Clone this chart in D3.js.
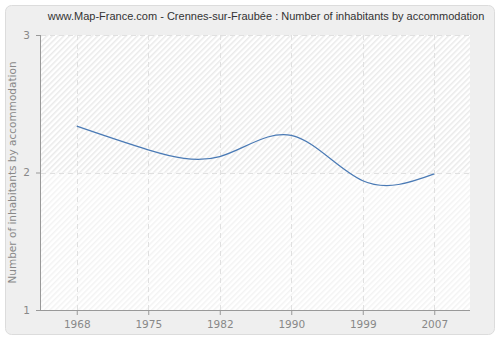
<!DOCTYPE html>
<html>
<head>
<meta charset="utf-8">
<script src="https://cdn.jsdelivr.net/npm/d3@7"></script>
<style>
  body { margin: 0; background: #fff; }
</style>
</head>
<body>
<script>
// data
var years = [1968, 1975, 1982, 1990, 1999, 2007];
var values = [2.337, 2.165, 2.116, 2.27, 1.94, 1.99];
var yTicks = [1, 2, 3];
var title = "www.Map-France.com - Crennes-sur-Fraubée : Number of inhabitants by accommodation";
var yLabel = "Number of inhabitants by accommodation";

var W = 500, H = 340;
var margin = {top: 35, right: 30, bottom: 30, left: 41},
    width = W - margin.left - margin.right,
    height = H - margin.top - margin.bottom;

var svg = d3.select("body").append("svg")
    .attr("width", W)
    .attr("height", H);

// hatch patterns
var defs = svg.append("defs");
function hatch(id, col) {
  var p = defs.append("pattern")
      .attr("id", id)
      .attr("patternUnits", "userSpaceOnUse")
      .attr("width", 4).attr("height", 4)
      .attr("patternTransform", "rotate(45)");
  p.append("rect").attr("width", 4).attr("height", 4).attr("fill", "#ffffff");
  p.append("line").attr("x1", 0.75).attr("y1", 0).attr("x2", 0.75).attr("y2", 4)
      .attr("stroke", col).attr("stroke-width", 1.5);
}
hatch("hatchA", "#eaeaea");
hatch("hatchB", "#f3f3f3");

// outer panel
svg.append("rect")
    .attr("x", 5.5).attr("y", 5.5)
    .attr("width", W - 11).attr("height", H - 11)
    .attr("rx", 6)
    .attr("fill", "#efefef")
    .attr("stroke", "#dcdcdc");

svg.append("text")
    .attr("x", 266).attr("y", 20)
    .attr("text-anchor", "middle")
    .style("font-size", "11px")
    .style("font-family", "'Liberation Sans', Arial, sans-serif")
    .attr("fill", "#333")
    .text(title);

var g = svg.append("g")
    .attr("transform", "translate(" + margin.left + "," + margin.top + ")");

var x = d3.scalePoint().domain(years).range([0, width]).padding(0.5);
var y = d3.scaleLinear().domain([1, 3]).range([height, 0]);

// background bands
g.append("rect").attr("x", 0).attr("y", y(3))
    .attr("width", width).attr("height", y(2) - y(3))
    .attr("fill", "url(#hatchA)");
g.append("rect").attr("x", 0).attr("y", y(2))
    .attr("width", width).attr("height", y(1) - y(2))
    .attr("fill", "url(#hatchB)");

// grid
g.selectAll(".vgrid").data(years).enter().append("line")
    .attr("x1", function(d) { return Math.round(x(d)) + 0.5; })
    .attr("x2", function(d) { return Math.round(x(d)) + 0.5; })
    .attr("y1", 0).attr("y2", height)
    .attr("stroke", "#e0e0e0")
    .attr("stroke-dasharray", "5,4");
g.selectAll(".hgrid").data(yTicks.slice(1)).enter().append("line")
    .attr("x1", 0).attr("x2", width)
    .attr("y1", function(d) { return Math.round(y(d)) + 0.5; })
    .attr("y2", function(d) { return Math.round(y(d)) + 0.5; })
    .attr("stroke", "#e0e0e0")
    .attr("stroke-dasharray", "5,4");

// axes
var xAxis = d3.axisBottom(x).tickFormat(d3.format("d"))
    .tickSize(5).tickPadding(6);
var yAxis = d3.axisLeft(y).tickValues(yTicks).tickFormat(d3.format("d"))
    .tickSize(5).tickPadding(6);

var gx = g.append("g")
    .attr("transform", "translate(0," + height + ")")
    .call(xAxis);
var gy = g.append("g").call(yAxis);

[gx, gy].forEach(function(a) {
  a.select(".domain").attr("stroke", "#999");
  a.selectAll(".tick line").attr("stroke", "#999");
  a.selectAll(".tick text").attr("fill", "#888")
      .style("font-size", "10.5px")
      .style("font-family", "'DejaVu Sans', Verdana, sans-serif");
});
gx.select(".domain").attr("d", "M0,0.5H" + width);
gy.select(".domain").attr("d", "M-0.5,0V" + height);

// y label
svg.append("text")
    .attr("transform", "translate(16," + (margin.top + height / 2) + ") rotate(-90)")
    .attr("text-anchor", "middle")
    .style("font-size", "10.5px")
    .style("font-family", "'DejaVu Sans', Verdana, sans-serif")
    .attr("fill", "#888")
    .text(yLabel);

// line
var line = d3.line()
    .x(function(d, i) { return x(years[i]); })
    .y(function(d) { return y(d); })
    .curve(d3.curveNatural);

g.append("path")
    .datum(values)
    .attr("fill", "none")
    .attr("stroke", "#4a7ab5")
    .attr("stroke-width", 1.2)
    .attr("d", line);
</script>
</body>
</html>
